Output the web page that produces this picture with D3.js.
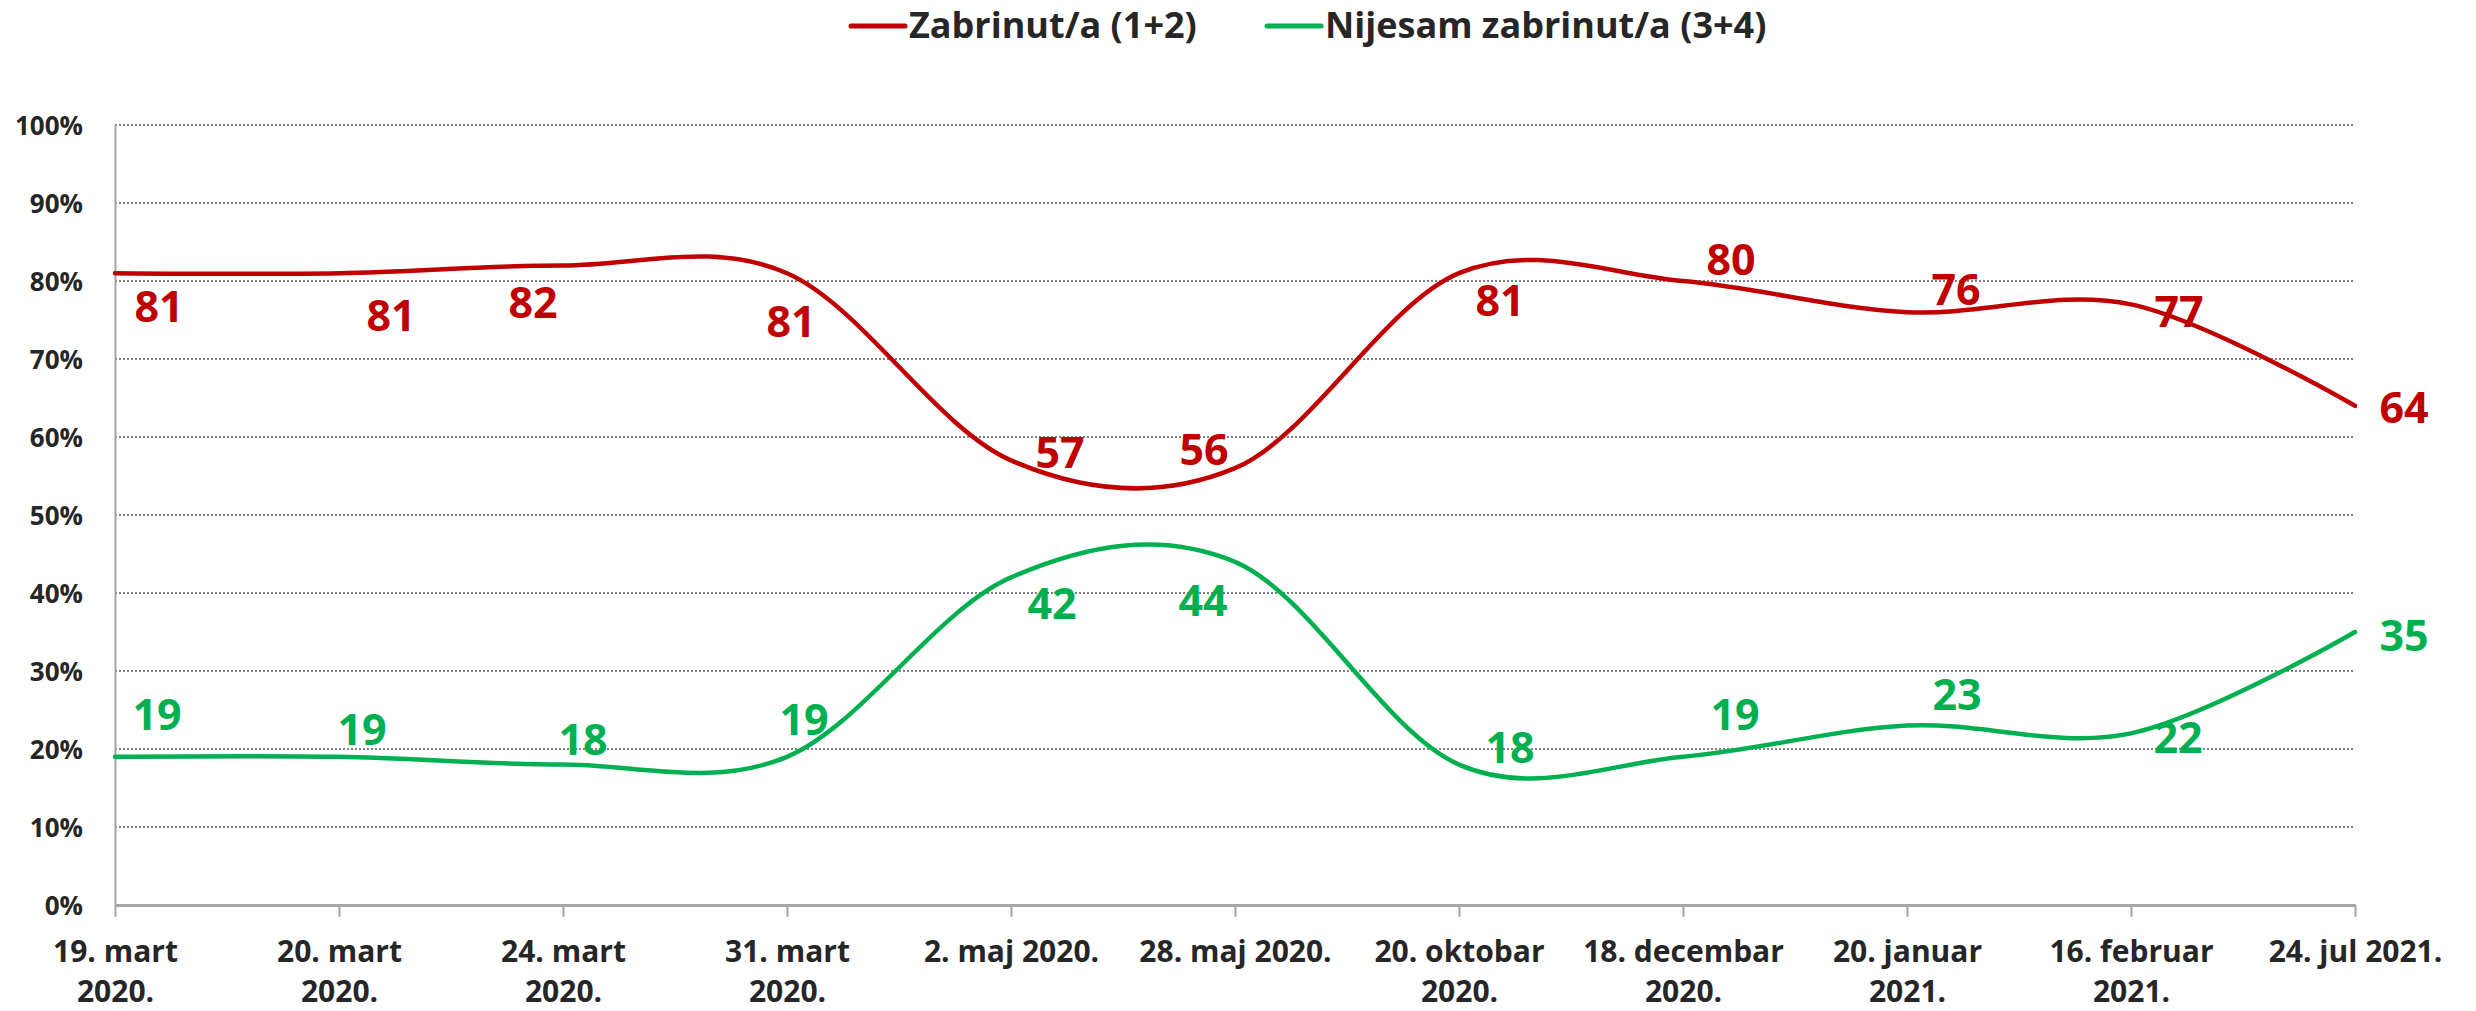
<!DOCTYPE html>
<html lang="en">
    <head>
        <meta charset="UTF-8">
        <title>Zabrinutost</title>
        <script src="https://d3js.org/d3.v7.min.js"></script>
    </head>

    <style>
        body {margin: 0; background: #fff;}
        svg {font-family: "Open Sans", sans-serif; font-weight: bold;}
        .grid line {stroke: #7f7f7f; stroke-width: 2; stroke-dasharray: 2 2;}
        .axis path, .axis line {stroke: #a6a6a6;}
        .axis text {fill: #262626; font-family: "Open Sans", sans-serif; font-weight: bold;}
    </style>

    <body>
        <svg width="2476" height="1011"></svg>

        <script>
            // data
            const categories = ["19. mart\n2020.", "20. mart\n2020.", "24. mart\n2020.", "31. mart\n2020.",
                "2. maj 2020.", "28. maj 2020.", "20. oktobar\n2020.", "18. decembar\n2020.",
                "20. januar\n2021.", "16. februar\n2021.", "24. jul 2021."];
            const zabrinut = [81, 81, 82, 81, 57, 56, 81, 80, 76, 77, 64];
            const nijesam = [19, 19, 18, 19, 42, 44, 18, 19, 23, 22, 35];
            const yTicks = [0, 10, 20, 30, 40, 50, 60, 70, 80, 90, 100];
            const seriesNames = ["Zabrinut/a (1+2)", "Nijesam zabrinut/a (3+4)"];

            // hand placed data labels (offset from the point, px)
            const redLabelOffset = [[44,33],[52,42],[-30,37],[4,48],[49,-8],[-31,-19],[41,27],[48,-21],[49,-23],[48,7],[49,2]];
            const greenLabelOffset = [[42,-42],[23,-27],[20,-25],[17,-37],[41,26],[-32,39],[51,-17],[52,-42],[50,-31],[47,4],[49,4]];

            const red = "#c00000", green = "#00b050";

            var svg = d3.select("svg");
            var x = d3.scalePoint().domain(categories).range([115, 2355]);
            var y = d3.scaleLinear().domain([0, 100]).range([905, 125]);

            // dotted gridlines
            svg.append("g").attr("class", "grid")
                .selectAll("line").data(yTicks.filter(d => d > 0))
                .enter().append("line")
                .attr("x1", 115).attr("x2", 2355)
                .attr("y1", d => y(d)).attr("y2", d => y(d));

            // y axis
            var yAxis = svg.append("g").attr("class", "axis").attr("transform", "translate(115,0)")
                .call(d3.axisLeft(y).tickValues(yTicks).tickSize(0).tickPadding(32).tickFormat(d => d + "%"));
            yAxis.select(".domain").attr("stroke-width", 2);
            yAxis.selectAll("text").attr("font-size", 26).attr("dy", "0.36em");

            // x axis
            var xAxis = svg.append("g").attr("class", "axis").attr("transform", "translate(0,905)")
                .call(d3.axisBottom(x).tickSizeInner(12).tickSizeOuter(0));
            xAxis.select(".domain").attr("stroke-width", 3);
            xAxis.selectAll(".tick line").attr("stroke-width", 2);
            xAxis.selectAll("text").each(function(d) {
                var t = d3.select(this).text(null).attr("font-size", 30).attr("y", 57).attr("dy", null);
                d.split("\n").forEach(function(s, i) {
                    t.append("tspan").attr("x", 0).attr("dy", i == 0 ? 0 : 40).text(s);
                });
            });

            // lines
            var line = d3.line()
                .x((d, i) => x(categories[i]))
                .y(d => y(d))
                .curve(d3.curveCardinal.tension(0));

            [[zabrinut, red, redLabelOffset], [nijesam, green, greenLabelOffset]].forEach(function(s) {
                svg.append("path").datum(s[0])
                    .attr("d", line)
                    .attr("fill", "none")
                    .attr("stroke", s[1])
                    .attr("stroke-width", 4.5)
                    .attr("stroke-linecap", "round");

                svg.append("g").selectAll("text").data(s[0])
                    .enter().append("text")
                    .attr("x", (d, i) => x(categories[i]) + s[2][i][0])
                    .attr("y", (d, i) => y(d) + s[2][i][1])
                    .attr("dy", "0.36em")
                    .attr("text-anchor", "middle")
                    .attr("font-size", 43)
                    .attr("fill", s[1])
                    .text(d => d);
            });

            // legend
            var legendX = [851, 1267];
            var legend = svg.append("g").selectAll("g").data(seriesNames)
                .enter().append("g")
                .attr("transform", (d, i) => "translate(" + legendX[i] + ",26)");
            legend.append("line")
                .attr("x1", 0).attr("x2", 54)
                .attr("stroke", (d, i) => i == 0 ? red : green)
                .attr("stroke-width", 5)
                .attr("stroke-linecap", "round");
            legend.append("text")
                .attr("x", 58).attr("y", 12)
                .attr("font-size", 36)
                .attr("fill", "#262626")
                .text(d => d);
        </script>
    </body>
</html>
